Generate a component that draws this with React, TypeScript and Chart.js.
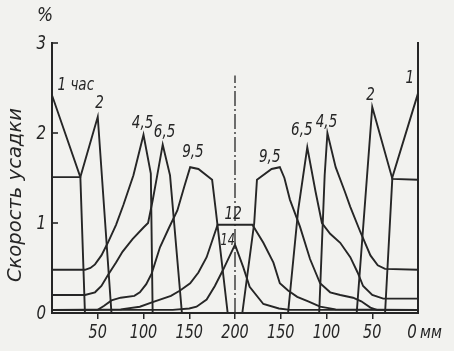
import React, { useEffect, useRef } from "react";
import { Chart, registerables } from "chart.js";

Chart.register(...registerables);

// ---------- data ----------
const xTicks = [0, 50, 100, 150, 200, 250, 300, 350, 400];
const xTickLabels = ["", "50", "100", "150", "200", "150", "100", "50", "0 мм"];
const yTicks = [0, 1, 2, 3];
const yTickLabels = ["0", "1", "2", "3"];

// Each curve: [distance from the face, mm ; shrinkage rate, %]
// "Left" = measured from the left face, "Right" = measured from the right face.
const c1Left = [[0, 2.42], [31, 1.51], [36, 0]];
const c1Right = [[0, 2.44], [28, 1.51], [36, 0]];

const c2Left = [[0, 1.51], [31, 1.51], [50, 2.18], [65, 0]];
const c2Right = [[0, 1.48], [28, 1.49], [50, 2.29], [67, 0]];

const c45Left = [[0, 0.48], [36, 0.48], [42, 0.5], [47, 0.54], [54, 0.64], [61, 0.78], [70, 0.98], [78, 1.2], [89, 1.53], [100, 1.98], [108, 1.55], [110, 0]];
const c45Right = [[0, 0.48], [36, 0.49], [44, 0.53], [52, 0.64], [63, 0.9], [74, 1.18], [80, 1.35], [90, 1.62], [99, 2.0], [102, 1.53], [108, 0]];

const c65Left = [[0, 0.2], [36, 0.2], [47, 0.23], [54, 0.3], [61, 0.42], [70, 0.56], [77, 0.68], [88, 0.82], [100, 0.95], [105, 1.0], [110, 1.25], [115, 1.53], [121, 1.87], [129, 1.53], [142, 0]];
const c65Right = [[0, 0.16], [38, 0.16], [50, 0.2], [60, 0.3], [66, 0.45], [74, 0.62], [85, 0.78], [96, 0.88], [105, 1.0], [112, 1.35], [121, 1.84], [131, 1.14], [142, 0]];

const c95Left = [[0, 0.035], [50, 0.035], [57, 0.08], [65, 0.14], [75, 0.17], [90, 0.19], [96, 0.23], [103, 0.32], [109, 0.44], [118, 0.73], [128, 0.95], [137, 1.14], [145, 1.42], [151, 1.62], [160, 1.6], [175, 1.48], [179, 1.14], [192, 0]];
const c95Right = [[0, 0.035], [45, 0.035], [52, 0.06], [62, 0.13], [71, 0.17], [85, 0.2], [96, 0.23], [107, 0.33], [118, 0.6], [129, 0.96], [140, 1.26], [146, 1.5], [151, 1.62], [160, 1.6], [176, 1.48], [179, 1.0], [192, 0]];

const c12Left = [[0, 0.035], [75, 0.04], [96, 0.07], [110, 0.12], [130, 0.19], [140, 0.25], [151, 0.33], [160, 0.45], [169, 0.62], [181, 0.98], [200, 0.98]];
const c12Right = [[0, 0.035], [90, 0.04], [107, 0.07], [120, 0.13], [132, 0.18], [142, 0.25], [151, 0.33], [158, 0.56], [169, 0.78], [181, 0.98]];

const c14Left = [[0, 0.035], [132, 0.035], [150, 0.05], [158, 0.07], [169, 0.15], [178, 0.3], [187, 0.48], [200, 0.76]];
const c14Right = [[0, 0.035], [140, 0.035], [152, 0.05], [169, 0.1], [184, 0.29], [191, 0.51]];

const centerLine = [[200, 0], [200, 2.64]];

// curve labels: text, x (mm), y (%)
const curveLabels: [string, number, number][] = [
  ["1 час", 26, 2.53],
  ["2", 52, 2.33],
  ["4,5", 99, 2.11],
  ["6,5", 123, 2.01],
  ["9,5", 154, 1.78],
  ["12", 198, 1.1],
  ["14", 192, 0.8],
  ["9,5", 238, 1.73],
  ["6,5", 273, 2.03],
  ["4,5", 300, 2.12],
  ["2", 348, 2.42],
  ["1", 391, 2.61],
];

const SPAN = 400;
const FONT = "'DejaVu Sans', 'Liberation Sans', sans-serif";
const INK = "#262626";
const PAPER = "#f2f2ef";

function toPoints(left: number[][], right: number[][]) {
  const a = left.map(([d, v]) => ({ x: d, y: v }));
  const b = right.slice().reverse().map(([d, v]) => ({ x: SPAN - d, y: v }));
  return a.concat(b);
}

const curves = [
  [c1Left, c1Right],
  [c2Left, c2Right],
  [c45Left, c45Right],
  [c65Left, c65Right],
  [c95Left, c95Right],
  [c12Left, c12Right],
  [c14Left, c14Right],
];

function narrowText(
  ctx: CanvasRenderingContext2D,
  text: string,
  px: number,
  py: number,
  size: number,
  sx: number,
  align: CanvasTextAlign
) {
  ctx.save();
  ctx.font = `italic ${size}px ${FONT}`;
  ctx.textAlign = align;
  ctx.textBaseline = "middle";
  ctx.translate(px, py);
  ctx.scale(sx, 1);
  ctx.fillText(text, 0, 0);
  ctx.restore();
}

const annotPlugin = {
  id: "annot",
  beforeDraw(chart: any) {
    const ctx = chart.ctx;
    ctx.save();
    ctx.fillStyle = PAPER;
    ctx.fillRect(0, 0, chart.width, chart.height);
    ctx.restore();
  },
  afterDraw(chart: any) {
    const { ctx } = chart;
    const x = chart.scales.x;
    const y = chart.scales.y;
    ctx.save();
    ctx.fillStyle = INK;
    // inward y ticks
    ctx.strokeStyle = INK;
    ctx.lineWidth = 1.6;
    yTicks.forEach((v, i) => {
      const py = y.getPixelForValue(v);
      if (v !== 0) {
        ctx.beginPath();
        ctx.moveTo(x.left, py);
        ctx.lineTo(x.left + 6, py);
        ctx.stroke();
      }
      narrowText(ctx, yTickLabels[i], x.left - 6, py + 1, 20, 0.75, "right");
    });
    // x tick labels
    xTicks.forEach((v, i) => {
      const t = xTickLabels[i];
      if (!t) return;
      const px = x.getPixelForValue(v);
      const py = x.top + 20;
      if (v === SPAN) {
        narrowText(ctx, "0", px - 6, py, 20, 0.75, "center");
        narrowText(ctx, "мм", px + 2, py + 1, 17, 0.85, "left");
      } else {
        narrowText(ctx, t, px, py, 20, 0.72, "center");
      }
    });
    // curve labels
    for (const [t, xv, yv] of curveLabels) {
      narrowText(ctx, t, x.getPixelForValue(xv), y.getPixelForValue(yv), t === "14" ? 15 : 18, 0.75, "center");
    }
    // unit
    narrowText(ctx, "%", x.left - 7, y.top - 27, 20, 0.85, "center");
    // axis title
    const title = "Скорость усадки";
    ctx.font = `italic 19px ${FONT}`;
    const w = ctx.measureText(title).width;
    ctx.translate(16, y.getPixelForValue(1.31));
    ctx.rotate(-Math.PI / 2);
    ctx.scale(174 / w, 1);
    ctx.textAlign = "center";
    ctx.textBaseline = "middle";
    ctx.fillText(title, 0, 0);
    ctx.restore();
  },
};

export default function App() {
  const ref = useRef<HTMLCanvasElement | null>(null);

  useEffect(() => {
    document.body.style.margin = "0";
    document.body.style.background = PAPER;
    const canvas = ref.current;
    if (!canvas) return;

    const datasets: any[] = curves.map(([l, r]) => ({
      data: toPoints(l, r),
      borderColor: INK,
      borderWidth: 1.9,
      pointRadius: 0,
      tension: 0,
      fill: false,
    }));
    datasets.push({
      data: centerLine.map(([a, b]) => ({ x: a, y: b })),
      borderColor: INK,
      borderWidth: 1.3,
      borderDash: [15, 3, 2, 3],
      pointRadius: 0,
      fill: false,
    });

    const chart = new Chart(canvas, {
      type: "line",
      data: { datasets },
      plugins: [annotPlugin],
      options: {
        animation: false,
        responsive: false,
        events: [],
        layout: { padding: { top: 43, right: 36, left: 0, bottom: 0 } },
        plugins: { legend: { display: false }, tooltip: { enabled: false } },
        scales: {
          x: {
            type: "linear",
            min: 0,
            max: SPAN,
            afterBuildTicks: (s: any) => {
              s.ticks = xTicks.map((v) => ({ value: v }));
            },
            afterFit: (s: any) => {
              s.height = 38;
            },
            ticks: { display: false },
            grid: {
              drawOnChartArea: false,
              drawTicks: true,
              tickLength: 6,
              lineWidth: 1.5,
              color: (c: any) =>
                c.tick && (c.tick.value === 0 || c.tick.value === SPAN) ? "rgba(0,0,0,0)" : INK,
            },
            border: { color: INK, width: 2 },
          },
          y: {
            min: 0,
            max: 3,
            afterBuildTicks: (s: any) => {
              s.ticks = yTicks.map((v) => ({ value: v }));
            },
            afterFit: (s: any) => {
              s.width = 52;
            },
            ticks: { display: false },
            grid: { drawOnChartArea: false, drawTicks: false },
            border: { color: INK, width: 2 },
          },
          y2: {
            position: "right",
            min: 0,
            max: 3,
            ticks: { display: false },
            grid: { drawOnChartArea: false, drawTicks: false },
            border: { color: INK, width: 2 },
            afterFit: (s: any) => {
              s.width = 0;
            },
          },
        },
      } as any,
    });
    return () => chart.destroy();
  }, []);

  return <canvas ref={ref} width={454} height={351} style={{ display: "block" }} />;
}
